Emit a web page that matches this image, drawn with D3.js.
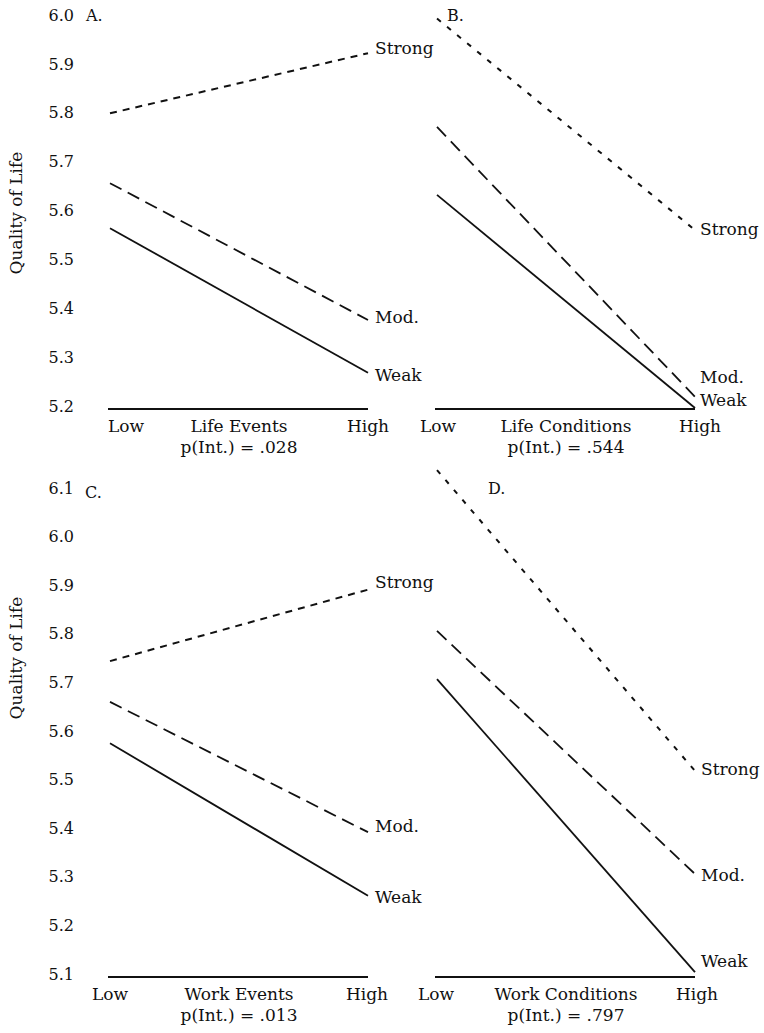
<!DOCTYPE html>
<html>
<head>
<meta charset="utf-8">
<script src="https://cdn.jsdelivr.net/npm/d3@7"></script>
<style>
  html, body { margin: 0; padding: 0; background: #fff; }
  svg { display: block; }
  text { font-family: "DejaVu Serif", "Liberation Serif", serif; fill: #111; }
</style>
</head>
<body>
<svg id="chart" width="764" height="1033"></svg>
<script>
// ---------- data ----------
const levels = ["Low", "High"];
const seriesNames = ["Strong", "Mod.", "Weak"];

const panelNames = ["A.", "B.", "C.", "D."];
const xTitles = ["Life Events", "Life Conditions", "Work Events", "Work Conditions"];
const pValues = ["p(Int.) = .028", "p(Int.) = .544", "p(Int.) = .013", "p(Int.) = .797"];

// Quality of Life at [Low, High] for Strong, Mod., Weak
const strongA = [5.805, 5.928], modA = [5.662, 5.382], weakA = [5.570, 5.274];
const strongB = [5.999, 5.566], modB = [5.777, 5.225], weakB = [5.638, 5.202];
const strongC = [5.750, 5.897], modC = [5.666, 5.398], weakC = [5.581, 5.267];
const strongD = [6.143, 5.524], modD = [5.812, 5.312], weakD = [5.713, 5.110];

const topTicks = [5.2, 5.3, 5.4, 5.5, 5.6, 5.7, 5.8, 5.9, 6.0];
const bottomTicks = [5.1, 5.2, 5.3, 5.4, 5.5, 5.6, 5.7, 5.8, 5.9, 6.0, 6.1];
const yTitle = "Quality of Life";

// ---------- layout ----------
const svg = d3.select("#chart");

const yTop = d3.scaleLinear().domain([5.2, 6.0]).range([409, 18]);
const yBot = d3.scaleLinear().domain([5.1, 6.1]).range([977, 491]);

const xLeft = d3.scalePoint().domain(levels).range([110, 368]);
const xRight = d3.scalePoint().domain(levels).range([437, 695]);

const panels = [
  { y: yTop, x: xLeft,  series: [strongA, modA, weakA], lowOff: 16, highOff: 0, lblDy: [-5, -3, 2],  nameX: 86,  nameY: 15,  labelX: 375, strongDash: "7,6" },
  { y: yTop, x: xRight, series: [strongB, modB, weakB], lowOff: 1,  highOff: 5, lblDy: [-1, -20, -8], nameX: 447, nameY: 15,  labelX: 700, strongDash: "5,8" },
  { y: yBot, x: xLeft,  series: [strongC, modC, weakC], lowOff: 0,  highOff: -1, lblDy: [-8, -6, 1], nameX: 85,  nameY: 492, labelX: 375, strongDash: "7,6" },
  { y: yBot, x: xRight, series: [strongD, modD, weakD], lowOff: -1, highOff: 2, lblDy: [-2, 1, -11], nameX: 488, nameY: 488, labelX: 701, strongDash: "5,8" }
];

const fs = 17;

// y axes (left panels only)
function drawYAxis(scale, ticks) {
  const g = svg.append("g")
    .attr("transform", "translate(74,-3)")
    .call(d3.axisLeft(scale).tickValues(ticks).tickFormat(d3.format(".1f")).tickSize(0).tickPadding(0));
  g.select(".domain").remove();
  g.selectAll("text")
    .style("font-family", '"DejaVu Serif", "Liberation Serif", serif')
    .style("font-size", "16px")
    .attr("fill", "#111");
}
drawYAxis(yTop, topTicks);
drawYAxis(yBot, bottomTicks);

// y titles
[[16, 213], [16, 658]].forEach(([cx, cy]) => {
  svg.append("text")
    .attr("transform", `translate(${cx},${cy}) rotate(-90)`)
    .attr("text-anchor", "middle")
    .attr("dy", "0.35em")
    .style("font-size", "17px")
    .text(yTitle);
});

const line = (x, y) => d3.line().x((d, i) => x(levels[i])).y(d => y(d));

panels.forEach((p, pi) => {
  const g = svg.append("g");
  const [x0, x1] = p.x.range();
  const yBase = p.y(p.y.domain()[0]);
  const dashes = [p.strongDash, "13,7", null];

  // baseline
  g.append("line")
    .attr("x1", x0 - 2).attr("x2", x1)
    .attr("y1", yBase).attr("y2", yBase)
    .attr("stroke", "#111").attr("stroke-width", 2);

  // series
  p.series.forEach((vals, si) => {
    g.append("path")
      .datum(vals)
      .attr("d", line(p.x, p.y))
      .attr("fill", "none")
      .attr("stroke", "#111")
      .attr("stroke-width", si === 0 ? 2 : 1.8)
      .attr("stroke-dasharray", dashes[si]);
    g.append("text")
      .attr("x", p.labelX)
      .attr("y", p.y(vals[1]) + p.lblDy[si])
      .attr("dy", "0.35em")
      .style("font-size", fs + "px")
      .text(seriesNames[si]);
  });

  // x tick labels
  g.append("text")
    .attr("x", p.x("Low") + p.lowOff).attr("y", yBase + 17)
    .attr("dy", "0.35em").attr("text-anchor", "middle")
    .style("font-size", fs + "px").text(levels[0]);
  g.append("text")
    .attr("x", p.x("High") + p.highOff).attr("y", yBase + 17)
    .attr("dy", "0.35em").attr("text-anchor", "middle")
    .style("font-size", fs + "px").text(levels[1]);

  // x title and p-value
  const mid = (x0 + x1) / 2;
  g.append("text")
    .attr("x", mid).attr("y", yBase + 17)
    .attr("dy", "0.35em").attr("text-anchor", "middle")
    .style("font-size", fs + "px").text(xTitles[pi]);
  g.append("text")
    .attr("x", mid).attr("y", yBase + 38)
    .attr("dy", "0.35em").attr("text-anchor", "middle")
    .style("font-size", fs + "px").text(pValues[pi]);

  // panel name
  g.append("text")
    .attr("x", p.nameX).attr("y", p.nameY)
    .attr("dy", "0.35em")
    .style("font-size", "16px").text(panelNames[pi]);
});
</script>
</body>
</html>
